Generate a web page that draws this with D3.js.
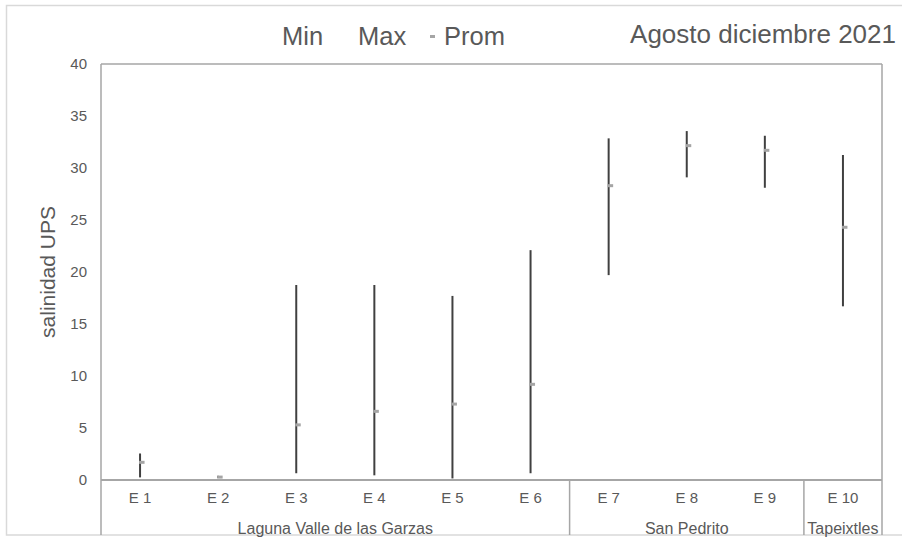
<!DOCTYPE html>
<html>
<head>
<meta charset="utf-8">
<script src="https://cdn.jsdelivr.net/npm/d3@7"></script>
<style>
  html, body { margin: 0; padding: 0; background: #fff; }
  svg { display: block; }
  text { font-family: "Liberation Sans", Arial, sans-serif; fill: #595959; }
</style>
</head>
<body>
<svg id="chart" width="902" height="537"></svg>
<script>
// Salinity ranges per station (UPS)
const stations = ["E 1", "E 2", "E 3", "E 4", "E 5", "E 6", "E 7", "E 8", "E 9", "E 10"];
const minValues  = [0.25, 0.2, 0.65, 0.45, 0.15, 0.65, 19.7, 29.1, 28.1, 16.7];
const maxValues  = [2.55, 0.4, 18.75, 18.75, 17.7, 22.1, 32.85, 33.55, 33.1, 31.25];
const promValues = [1.7, 0.28, 5.3, 6.6, 7.3, 9.2, 28.3, 32.15, 31.7, 24.3];

// Station groups (sites)
const groupNames = ["Laguna Valle de las Garzas", "San Pedrito", "Tapeixtles"];
const groupStarts = [0, 6, 9];
const groupEnds = [6, 9, 10];

const yTicks = [0, 5, 10, 15, 20, 25, 30, 35, 40];

const svg = d3.select("#chart");
const plotLeft = 101, plotRight = 882, plotTop = 64, plotBottom = 480;

// Outer frame
svg.append("rect")
  .attr("x", 6.5).attr("y", 5.5)
  .attr("width", 920).attr("height", 529.5)
  .attr("fill", "none").attr("stroke", "#d9d9d9").attr("stroke-width", 1.5);

const x = d3.scaleBand().domain(stations).range([plotLeft, plotRight]).padding(0);
const y = d3.scaleLinear().domain([0, 40]).range([plotBottom, plotTop]);

// Y axis tick labels
const yAxis = d3.axisLeft(y).tickValues(yTicks).tickSize(0).tickPadding(14);
const yg = svg.append("g").attr("transform", `translate(${plotLeft},0)`).call(yAxis);
yg.select(".domain").remove();
yg.selectAll("text")
  .style("font-size", "15px")
  .attr("fill", "#595959")
  .attr("font-family", "Liberation Sans, Arial, sans-serif");

// Plot frame: top, left, right, and baseline
const axisColor = "#a6a6a6";
svg.append("line").attr("x1", plotLeft).attr("x2", plotRight).attr("y1", plotTop).attr("y2", plotTop)
  .attr("stroke", axisColor).attr("stroke-width", 1.5);
svg.append("line").attr("x1", plotLeft).attr("x2", plotRight).attr("y1", y(0)).attr("y2", y(0))
  .attr("stroke", axisColor).attr("stroke-width", 2);
svg.append("line").attr("x1", plotLeft).attr("x2", plotLeft).attr("y1", plotTop).attr("y2", 535)
  .attr("stroke", axisColor).attr("stroke-width", 1.5);
svg.append("line").attr("x1", plotRight).attr("x2", plotRight).attr("y1", plotTop).attr("y2", 535)
  .attr("stroke", axisColor).attr("stroke-width", 1.5);

// Group separators below the baseline
groupEnds.slice(0, -1).forEach(e => {
  const sx = x(stations[e]);
  svg.append("line").attr("x1", sx).attr("x2", sx).attr("y1", y(0)).attr("y2", 535)
    .attr("stroke", axisColor).attr("stroke-width", 1.5);
});

// Station labels
const xAxis = d3.axisBottom(x).tickSize(0).tickPadding(12);
const xg = svg.append("g").attr("transform", `translate(0,${plotBottom})`).call(xAxis);
xg.select(".domain").remove();
xg.selectAll("text")
  .style("font-size", "15px")
  .attr("fill", "#595959")
  .attr("font-family", "Liberation Sans, Arial, sans-serif");

// Group labels
groupNames.forEach((g, i) => {
  const x0 = x(stations[groupStarts[i]]);
  const x1 = x(stations[groupEnds[i] - 1]) + x.bandwidth();
  svg.append("text")
    .attr("x", (x0 + x1) / 2).attr("y", 534)
    .attr("text-anchor", "middle")
    .style("font-size", "16px")
    .text(g);
});

// High-low lines
const cx = d => x(d) + x.bandwidth() / 2;
svg.append("g").selectAll("line")
  .data(stations)
  .join("line")
  .attr("x1", d => cx(d)).attr("x2", d => cx(d))
  .attr("y1", (d, i) => y(minValues[i]))
  .attr("y2", (d, i) => y(maxValues[i]))
  .attr("stroke", "#404040").attr("stroke-width", 2);

// Average markers
svg.append("g").selectAll("rect")
  .data(stations)
  .join("rect")
  .attr("x", d => cx(d) - 1)
  .attr("y", (d, i) => y(promValues[i]) - 1.5)
  .attr("width", 5.5).attr("height", 3)
  .attr("fill", "#a5a5a5");

// Y axis title
svg.append("text")
  .attr("transform", `translate(55,${(plotTop + plotBottom) / 2}) rotate(-90)`)
  .attr("text-anchor", "middle")
  .style("font-size", "21px")
  .text("salinidad UPS");

// Legend
svg.append("text").attr("x", 282).attr("y", 45).style("font-size", "25.5px").text("Min");
svg.append("text").attr("x", 358).attr("y", 45).style("font-size", "25.5px").text("Max");
svg.append("rect").attr("x", 430).attr("y", 35).attr("width", 5).attr("height", 3).attr("fill", "#a5a5a5");
svg.append("text").attr("x", 444).attr("y", 45).style("font-size", "25.5px").text("Prom");

// Title
svg.append("text").attr("x", 896).attr("y", 43)
  .attr("text-anchor", "end")
  .style("font-size", "26px")
  .text("Agosto diciembre 2021");
</script>
</body>
</html>
